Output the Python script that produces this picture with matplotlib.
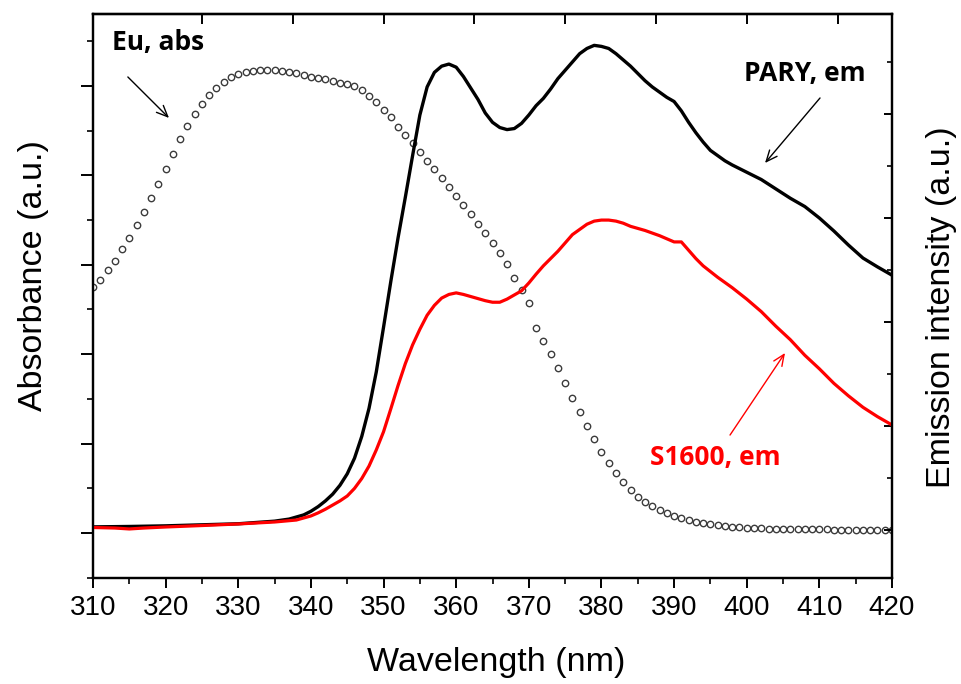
import numpy as np
import matplotlib
matplotlib.use("Agg")
import matplotlib.pyplot as plt
from matplotlib.ticker import MultipleLocator, NullFormatter, NullLocator

# ---------------- data ----------------
abs_wl = list(range(310, 421))
abs_val = [0.550, 0.566, 0.588, 0.609, 0.635, 0.660, 0.689, 0.718, 0.749, 0.781,
           0.814, 0.848, 0.881, 0.911, 0.937, 0.960, 0.980, 0.996, 1.009, 1.020,
           1.027, 1.031, 1.034, 1.036, 1.036, 1.036, 1.034, 1.031, 1.029, 1.025,
           1.020, 1.018, 1.016, 1.011, 1.007, 1.004, 1.000, 0.991, 0.978, 0.964,
           0.946, 0.931, 0.908, 0.890, 0.872, 0.852, 0.832, 0.814, 0.794, 0.774,
           0.754, 0.734, 0.714, 0.691, 0.671, 0.649, 0.626, 0.602, 0.570, 0.544,
           0.515, 0.459, 0.430, 0.400, 0.369, 0.336, 0.302, 0.271, 0.239, 0.210,
           0.181, 0.157, 0.134, 0.114, 0.096, 0.081, 0.069, 0.060, 0.051, 0.045,
           0.038, 0.034, 0.029, 0.025, 0.022, 0.020, 0.018, 0.016, 0.013, 0.013,
           0.011, 0.011, 0.011, 0.009, 0.009, 0.009, 0.008, 0.008, 0.008, 0.008,
           0.008, 0.008, 0.007, 0.007, 0.007, 0.007, 0.007, 0.007, 0.007, 0.007,
           0.007]

pary_wl = [310, 315, 320, 325, 330, 335, 337, 339, 340, 341, 342, 343, 344, 345,
           346, 347, 348, 349, 350, 351, 352, 353, 354, 355, 356, 357, 358, 359,
           360, 361, 362, 363, 364, 365, 366, 367, 368, 369, 370, 371, 372, 373,
           374, 375, 376, 377, 378, 379, 380, 381, 382, 383, 384, 385, 386, 387,
           388, 389, 390, 391, 392, 393, 394, 395, 396, 397, 398, 400, 402, 404,
           406, 408, 410, 412, 414, 416, 418, 420]
pary_em = [0.030, 0.034, 0.040, 0.050, 0.060, 0.085, 0.105, 0.145, 0.180, 0.225,
           0.280, 0.345, 0.430, 0.540, 0.690, 0.900, 1.170, 1.520, 1.950, 2.390,
           2.810, 3.200, 3.600, 3.990, 4.260, 4.400, 4.460, 4.480, 4.450, 4.360,
           4.250, 4.140, 4.010, 3.920, 3.870, 3.850, 3.860, 3.910, 3.990, 4.080,
           4.150, 4.240, 4.340, 4.420, 4.500, 4.580, 4.630, 4.660, 4.650, 4.630,
           4.580, 4.520, 4.460, 4.390, 4.320, 4.260, 4.210, 4.160, 4.120, 4.030,
           3.920, 3.820, 3.730, 3.650, 3.600, 3.550, 3.510, 3.440, 3.370, 3.280,
           3.190, 3.110, 3.000, 2.875, 2.740, 2.615, 2.530, 2.450]

s1600_wl = [310, 313, 315, 317, 320, 325, 330, 335, 338, 340, 341, 342, 343, 344,
            345, 346, 347, 348, 349, 350, 351, 352, 353, 354, 355, 356, 357, 358,
            359, 360, 361, 362, 363, 364, 365, 366, 367, 368, 369, 370, 371, 372,
            373, 374, 375, 376, 377, 378, 379, 380, 381, 382, 383, 384, 385, 386,
            388, 390, 391, 392, 393, 394, 396, 398, 400, 402, 404, 406, 408, 410,
            412, 414, 416, 418, 420]
s1600_em = [0.024, 0.019, 0.010, 0.019, 0.029, 0.043, 0.058, 0.077, 0.096, 0.135,
            0.165, 0.200, 0.240, 0.280, 0.327, 0.400, 0.495, 0.615, 0.770, 0.945,
            1.165, 1.390, 1.600, 1.780, 1.930, 2.065, 2.160, 2.230, 2.265, 2.280,
            2.265, 2.245, 2.225, 2.205, 2.190, 2.190, 2.220, 2.260, 2.300, 2.375,
            2.460, 2.540, 2.610, 2.680, 2.760, 2.840, 2.890, 2.940, 2.970, 2.980,
            2.980, 2.970, 2.950, 2.920, 2.900, 2.880, 2.830, 2.770, 2.770, 2.690,
            2.610, 2.540, 2.430, 2.330, 2.220, 2.100, 1.960, 1.830, 1.680, 1.550,
            1.410, 1.290, 1.180, 1.090, 1.010]

x_ticks = list(range(310, 421, 10))
top_ticks = [325, 337.5, 350, 362.5, 375, 387.5, 400, 412.5]

# ---------------- figure ----------------
W, H = 962, 684
fig = plt.figure(figsize=(W / 100, H / 100), dpi=100)
L, R, T, B = 93, 892, 14, 578
ax = fig.add_axes([L / W, 1 - B / H, (R - L) / W, (B - T) / H])

ax.plot(abs_wl, abs_val, linestyle='none', marker='o', markersize=4.6,
        markerfacecolor='white', markeredgecolor='#3c3c3c', markeredgewidth=1.0)

ax.set_xlim(310, 420)
ax.set_ylim(-0.1007, 1.161)
ax.set_xticks(x_ticks)
ax.set_xticklabels([str(t) for t in x_ticks])
ax.xaxis.set_minor_locator(MultipleLocator(5))
ax.yaxis.set_major_locator(MultipleLocator(0.2))
ax.yaxis.set_minor_locator(MultipleLocator(0.1))
ax.yaxis.set_major_formatter(NullFormatter())

for lab in ax.get_xticklabels():
    lab.set_fontfamily('Liberation Sans')
    lab.set_fontsize(20)

ax.tick_params(axis='x', which='major', direction='out', length=7.5, width=1.4,
               pad=5, top=False)
ax.tick_params(axis='x', which='minor', direction='out', length=4, width=1.2, top=False)
ax.tick_params(axis='y', which='major', direction='out', length=8.5, width=1.4, right=False)
ax.tick_params(axis='y', which='minor', direction='out', length=4.5, width=1.2, right=False)

ax2 = ax.twinx()
ax2.plot(pary_wl, pary_em, color='black', linewidth=2.4)
ax2.plot(s1600_wl, s1600_em, color='#ff0000', linewidth=2.3)
ax2.set_ylim(-0.4615, 4.9615)
ax2.yaxis.set_major_locator(MultipleLocator(1))
ax2.yaxis.set_minor_locator(MultipleLocator(0.5))
ax2.yaxis.set_major_formatter(NullFormatter())
ax2.tick_params(axis='y', which='major', direction='in', length=6, width=1.4)
ax2.tick_params(axis='y', which='minor', direction='in', length=3.5, width=1.2)

top = ax.secondary_xaxis('top')
top.set_xticks(top_ticks)
top.tick_params(direction='in', length=7, width=1.4, labeltop=False)
top.xaxis.set_minor_locator(NullLocator())

for a in (ax, ax2):
    for s in a.spines.values():
        s.set_linewidth(1.6)
top.spines['top'].set_linewidth(1.6)

ax.set_xlabel('Wavelength (nm)', fontfamily='Liberation Sans', fontsize=24.5)
ax.xaxis.set_label_coords(0.505, -0.122)
ax.set_ylabel('Absorbance (a.u.)', fontfamily='Liberation Sans', fontsize=24.5)
ax.yaxis.set_label_coords(-0.055, 0.537)
ax2.set_ylabel('Emission intensity (a.u.)', fontfamily='Liberation Sans', fontsize=24.5)
ax2.yaxis.set_label_coords(1.043, 0.480)

ann_font = dict(family='Open Sans', weight='bold', size=19)
arrow_style = '->,head_length=0.8,head_width=0.35'
ax2.text(318.95, 4.69, 'Eu, abs', ha='center', va='center', color='black', **ann_font)
ax2.annotate('', xy=(320.46, 3.962), xytext=(314.8, 4.356),
             arrowprops=dict(arrowstyle=arrow_style, color='black', lw=1.0,
                             shrinkA=0, shrinkB=0))
ax2.text(408.0, 4.39, 'PARY, em', ha='center', va='center', color='black', **ann_font)
ax2.annotate('', xy=(402.52, 3.529), xytext=(410.09, 4.154),
             arrowprops=dict(arrowstyle=arrow_style, color='black', lw=1.0,
                             shrinkA=0, shrinkB=0))
ax2.text(395.63, 0.70, 'S1600, em', ha='center', va='center', color='#ff0000', **ann_font)
ax2.annotate('', xy=(405.27, 1.702), xytext=(397.70, 0.913),
             arrowprops=dict(arrowstyle=arrow_style, color='#ff0000', lw=1.0,
                             shrinkA=0, shrinkB=0))

fig.savefig('out.png', dpi=100)
